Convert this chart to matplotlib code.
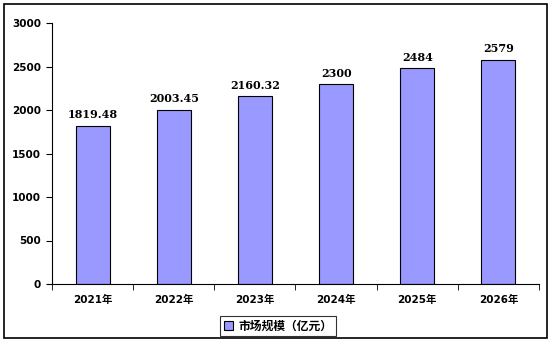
import matplotlib.pyplot as plt
from matplotlib.patches import Rectangle

plt.rcParams['font.family'] = ['DejaVu Sans', 'Noto Sans CJK SC']

years = ['2021年', '2022年', '2023年', '2024年', '2025年', '2026年']
values = [1819.48, 2003.45, 2160.32, 2300, 2484, 2579]
value_labels = ['1819.48', '2003.45', '2160.32', '2300', '2484', '2579']
series_name = '市场规模（亿元）'

fig = plt.figure(figsize=(5.54, 3.44), dpi=100)
ax = fig.add_axes([52 / 554, 1 - 284 / 344, (539 - 52) / 554, (284 - 23) / 344])

x = range(len(years))
ax.bar(x, values, width=0.42, color='#9999FF', edgecolor='black',
       linewidth=0.8, label=series_name, zorder=2)

# value labels above bars
for i, (v, lab) in enumerate(zip(values, value_labels)):
    ax.text(i, v + 60, lab, ha='center', va='bottom', fontsize=8,
            fontweight='bold', family='DejaVu Serif')

ax.set_xlim(-0.5, len(years) - 0.5)
ax.set_ylim(0, 3000)
ax.set_yticks(range(0, 3001, 500))
ax.set_xticks(list(x))
ax.set_xticklabels(years, fontsize=7.5, fontweight='bold')
ax.tick_params(axis='x', length=0, pad=8)
ax.set_xticks([i + 0.5 for i in range(-1, len(years))], minor=True)
ax.tick_params(axis='x', which='minor', length=4, direction='out')
ax.tick_params(axis='y', labelsize=7.5, length=4, direction='out', pad=4)
for t in ax.get_yticklabels():
    t.set_fontweight('bold')

ax.spines['top'].set_visible(False)
ax.spines['right'].set_visible(False)

leg = fig.legend(loc='center', bbox_to_anchor=(278 / 554, 1 - 326 / 344),
                 frameon=True, fancybox=False, edgecolor='black',
                 handlelength=0.8, handleheight=0.8, handletextpad=0.4,
                 borderpad=0.3,
                 prop={'weight': 'bold', 'size': 8.5,
                       'family': ['Noto Sans CJK SC', 'DejaVu Sans']})
leg.get_frame().set_linewidth(0.8)

# outer chart border
fig.patches.append(Rectangle((4 / 554, 1 - 338 / 344), 543 / 554, 334 / 344,
                             transform=fig.transFigure, fill=False,
                             edgecolor='black', linewidth=1.2))

fig.savefig('out.png', dpi=100)
